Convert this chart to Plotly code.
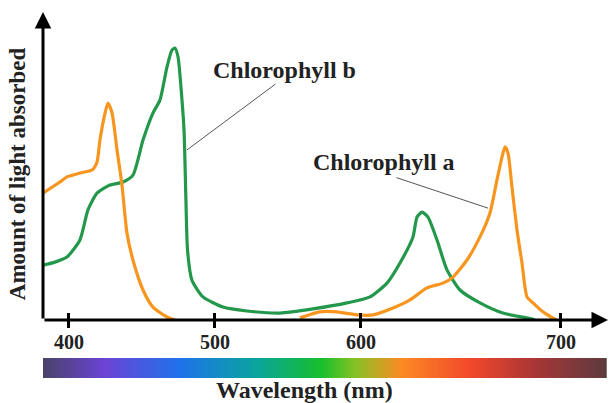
import numpy as np
import plotly.graph_objects as go

# ---------------- data (wavelength in nm, absorbance in arbitrary units) ----------------
chl_b_nm = [382.2, 390.4, 398.6, 407.5, 413.0, 419.2, 428.1, 437.0, 443.8, 450.7,
            457.5, 462.3, 467.1, 470.5, 472.6, 474.7, 477.4, 478.8, 480.1, 481.2,
            484.2, 491.8, 505.5, 521.9, 544.5, 567.1, 590.4, 604.5, 613.0, 619.5,
            626.0, 628.0, 630.5, 633.5, 638.0, 643.0, 649.5, 659.5, 671.0, 683.0,
            687.0]
chl_b_abs = [18.3, 19.3, 21.0, 26.7, 36.7, 42.3, 45.0, 46.0, 48.3, 60.0,
             69.0, 73.3, 84.3, 90.0, 90.7, 87.7, 73.3, 63.3, 40.0, 23.3,
             13.3, 7.7, 4.3, 3.0, 2.3, 3.7, 5.7, 7.7, 12.3, 19.0,
             27.7, 34.3, 36.0, 34.3, 26.7, 16.7, 10.0, 5.7, 2.3, 0.7,
             0.0]

chl_a_nm = [382.2, 393.8, 398.6, 407.5, 415.8, 419.2, 421.2, 424.7, 426.7, 429.5,
            432.9, 436.3, 439.7, 443.8, 450.7, 457.5, 467.1, 472.6, None,
            558.2, 571.9, 583.6, 597.3, 606.0, 616.0, 624.5, 633.0, 641.0, 646.0,
            653.0, 659.5, 664.5, 668.0, 670.5, 672.0, 673.5, 675.5, 678.0, 680.5,
            683.0, 686.0, 691.0, 697.5]
chl_a_abs = [42.3, 46.0, 47.7, 49.0, 50.0, 52.7, 60.0, 69.0, 72.3, 69.0,
             56.7, 45.0, 29.0, 20.0, 10.0, 4.3, 1.0, 0.0, None,
             0.7, 2.7, 2.7, 1.7, 1.7, 4.0, 6.7, 10.7, 12.3, 14.3,
             20.0, 27.7, 35.7, 46.7, 54.3, 57.7, 55.7, 44.3, 30.0, 19.0,
             7.7, 5.7, 2.7, 0.0]

tick_nm = [400, 500, 600, 700]
tick_labels = ["400", "500", "600", "700"]

spectrum_nm = [382, 425, 476, 527, 573, 596, 620, 655, 687, 723]
spectrum_colors = ["#4a4268", "#6b44d6", "#1f72ea", "#0aa3a0", "#17bf2c",
                   "#86c225", "#fb8a23", "#f2472b", "#a83636", "#5d3b3e"]

# The drawing's wavelength axis is stretched above 600 nm
def to_axis(v):
    if v is None:
        return None
    return v if v <= 600 else 600 + (v - 600) * 1.37

X_MIN, X_MAX = 382.2, 769.2
Y_MAX = 102.7
FONT = "Liberation Serif"

fig = go.Figure()

# spectrum bar
s_axis = [to_axis(v) for v in spectrum_nm]
edges = np.linspace(s_axis[0], s_axis[-1], 301)
centers = (edges[:-1] + edges[1:]) / 2
lo, hi = s_axis[0], s_axis[-1]
cscale = [[(p - lo) / (hi - lo), c] for p, c in zip(s_axis, spectrum_colors)]
fig.add_trace(go.Heatmap(x=edges, y=[0, 1], z=[centers], colorscale=cscale,
                         zmin=lo, zmax=hi, showscale=False, hoverinfo="skip",
                         xaxis="x", yaxis="y2"))

fig.add_trace(go.Scatter(x=[to_axis(v) for v in chl_b_nm], y=chl_b_abs,
                         mode="lines", line=dict(color="#23984a", width=3.2,
                                                 shape="spline", smoothing=0.6),
                         name="Chlorophyll b", connectgaps=False))
fig.add_trace(go.Scatter(x=[to_axis(v) for v in chl_a_nm], y=chl_a_abs,
                         mode="lines", line=dict(color="#f7951f", width=3.2,
                                                 shape="spline", smoothing=0.6),
                         name="Chlorophyll a", connectgaps=False))
# invisible helper trace so the overlay tick axis gets drawn
fig.add_trace(go.Scatter(x=[X_MIN], y=[0], mode="markers", marker=dict(opacity=0),
                         xaxis="x3", yaxis="y", hoverinfo="skip", showlegend=False))

tickvals = [to_axis(v) for v in tick_nm]

fig.update_layout(
    width=611, height=403,
    margin=dict(l=43, r=3, t=12, b=25, autoexpand=False),
    paper_bgcolor="white", plot_bgcolor="white",
    showlegend=False,
    xaxis=dict(range=[X_MIN, X_MAX], anchor="y", showgrid=False, zeroline=False,
               showline=False, ticks="outside", ticklen=7, tickwidth=2.5,
               tickcolor="black", tickvals=tickvals, ticktext=tick_labels,
               ticklabelstandoff=-3,
               tickfont=dict(family=FONT, size=20, color="#222", weight="bold")),
    xaxis3=dict(range=[X_MIN, X_MAX], overlaying="x", anchor="y", showgrid=False,
                zeroline=False, showline=False, ticks="inside", ticklen=7,
                tickwidth=2.5, tickcolor="black", tickvals=tickvals,
                showticklabels=False),
    yaxis=dict(range=[0, Y_MAX], domain=[0.1585, 1], showgrid=False, zeroline=False,
               showline=False, showticklabels=False, ticks=""),
    yaxis2=dict(range=[0, 1], domain=[0, 0.0546], showgrid=False, zeroline=False,
                showline=False, showticklabels=False, ticks="", anchor="x"),
)

# axis arrows
fig.add_annotation(x=X_MIN, y=Y_MAX, xref="x", yref="y", ax=0, ay=308, text="",
                   showarrow=True, arrowhead=2, arrowsize=1.1, arrowwidth=3,
                   arrowcolor="black", standoff=0)
fig.add_annotation(x=X_MAX, y=0, xref="x", yref="y", ax=-565, ay=0, text="",
                   showarrow=True, arrowhead=2, arrowsize=1.1, arrowwidth=3,
                   arrowcolor="black", standoff=0)

# labels with leader lines
fig.add_annotation(x=0.428, y=0.8415, xref="paper", yref="paper",
                   xanchor="center", yanchor="middle",
                   text="Chlorophyll b", showarrow=False,
                   font=dict(family=FONT, size=24, color="#222", weight="bold"))
fig.add_annotation(x=480.8, y=56.7, xref="x", yref="y", ax=90, ay=-67, text="",
                   showarrow=True, arrowhead=0, arrowwidth=1, arrowcolor="#555")
fig.add_annotation(x=0.6035, y=0.590, xref="paper", yref="paper",
                   xanchor="center", yanchor="middle",
                   text="Chlorophyll a", showarrow=False,
                   font=dict(family=FONT, size=24, color="#222", weight="bold"))
fig.add_annotation(x=687.0, y=37.3, xref="x", yref="y", ax=-93, ay=-31, text="",
                   showarrow=True, arrowhead=0, arrowwidth=1, arrowcolor="#555")

# axis titles
fig.add_annotation(x=-0.046, y=0.557, xref="paper", yref="paper",
                   xanchor="center", yanchor="middle",
                   text="Amount of light absorbed", textangle=-90, showarrow=False,
                   font=dict(family=FONT, size=23, color="#222", weight="bold"))
fig.add_annotation(x=0.462, y=-0.033, xref="paper", yref="paper",
                   xanchor="center", yanchor="middle",
                   text="Wavelength (nm)", showarrow=False,
                   font=dict(family=FONT, size=24, color="#222", weight="bold"))

fig.write_html("out.html", config={"displayModeBar": False},
               post_script="document.body.style.margin='0';")
